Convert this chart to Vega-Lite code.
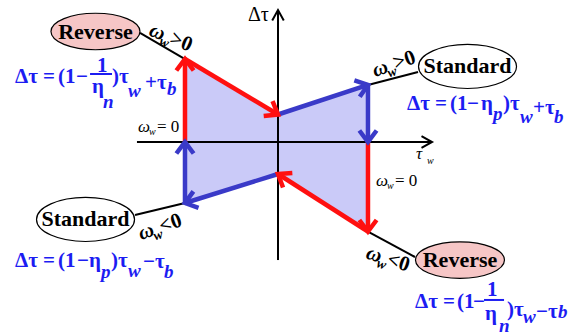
{
  "$schema": "https://vega.github.io/schema/vega-lite/v6.json",
  "width": 570,
  "height": 336,
  "padding": 0,
  "autosize": {"type": "none"},
  "background": "white",
  "config": {"view": {"stroke": null}},
  "encoding": {
    "x": {"field": "x", "type": "quantitative", "scale": {"domain": [-3.0217, 3.1739], "nice": false, "zero": false}, "axis": null},
    "y": {"field": "y", "type": "quantitative", "scale": {"domain": [-2.1087, 1.5435], "nice": false, "zero": false}, "axis": null}
  },
  "datasets": {
    "region": [
      {"x": -1.011, "y": 0.902, "y2": -0.663},
      {"x": 0, "y": 0.299, "y2": -0.348},
      {"x": 0.978, "y": 0.62, "y2": -0.973}
    ],
    "axes": [
      {"name": "tau_w", "x": 1.674, "y": 0, "x2": -1.533, "y2": 0, "heading": 90},
      {"name": "delta_tau", "x": 0, "y": 1.435, "x2": 0, "y2": -1.283, "heading": 0}
    ],
    "edges": [
      {"mode": "Reverse", "x": -1.011, "y": 0.902, "x2": -1.011, "y2": 0, "heading": 0},
      {"mode": "Reverse", "x": 0, "y": 0.299, "x2": -1.011, "y2": 0.902, "heading": 120.8},
      {"mode": "Standard", "x": 0.978, "y": 0.62, "x2": 0, "y2": 0.299, "heading": 71.8},
      {"mode": "Standard", "x": 0.978, "y": 0, "x2": 0.978, "y2": 0.62, "heading": 180},
      {"mode": "Reverse", "x": 0.978, "y": -0.973, "x2": 0.978, "y2": 0, "heading": 180},
      {"mode": "Reverse", "x": 0, "y": -0.348, "x2": 0.978, "y2": -0.973, "heading": 302.6},
      {"mode": "Standard", "x": -1.011, "y": -0.663, "x2": 0, "y2": -0.348, "heading": 252.7},
      {"mode": "Standard", "x": -1.011, "y": 0, "x2": -1.011, "y2": -0.663, "heading": 0}
    ],
    "leads": [
      {"x": -1.011, "y": 0.902, "x2": -1.5, "y2": 1.185},
      {"x": 0.978, "y": 0.62, "x2": 1.522, "y2": 0.761},
      {"x": -1.011, "y": -0.663, "x2": -1.554, "y2": -0.793},
      {"x": 0.978, "y": -0.973, "x2": 1.489, "y2": -1.25}
    ],
    "ellipses": [
      {"mode": "Reverse", "x": -1.984, "y": 1.201},
      {"mode": "Standard", "x": 2.06, "y": 0.821},
      {"mode": "Standard", "x": -2.092, "y": -0.842},
      {"mode": "Reverse", "x": 1.978, "y": -1.283}
    ],
    "tags": [
      {"rel": ">0", "x": -1.413, "y": 1.163, "tilt": 22},
      {"rel": ">0", "x": 1.054, "y": 0.707, "tilt": -19},
      {"rel": "<0", "x": -1.489, "y": -1.065, "tilt": -19},
      {"rel": "<0", "x": 0.946, "y": -1.261, "tilt": 18}
    ],
    "notes": [
      {"role": "head", "t": "Δτ", "x": -0.326, "y": 1.315},
      {"role": "sym", "t": "τ", "x": 1.5, "y": -0.185},
      {"role": "sub", "t": "w", "x": 1.62, "y": -0.239},
      {"role": "sym", "t": "ω", "x": -1.522, "y": 0.109},
      {"role": "sub", "t": "w", "x": -1.402, "y": 0.076},
      {"role": "plain", "t": "= 0", "x": -1.315, "y": 0.109},
      {"role": "sym", "t": "ω", "x": 1.065, "y": -0.478},
      {"role": "sub", "t": "w", "x": 1.185, "y": -0.511},
      {"role": "plain", "t": "= 0", "x": 1.272, "y": -0.478}
    ],
    "formula": [
      {"role": "main", "t": "Δτ", "x": -2.859, "y": 0.641},
      {"role": "main", "t": "=", "x": -2.554, "y": 0.641},
      {"role": "main", "t": "(1", "x": -2.391, "y": 0.641},
      {"role": "main", "t": "−", "x": -2.196, "y": 0.641},
      {"role": "main", "t": "1", "x": -1.967, "y": 0.761},
      {"role": "main", "t": "η", "x": -2.022, "y": 0.533},
      {"role": "sub", "t": "n", "x": -1.902, "y": 0.37},
      {"role": "main", "t": ")τ", "x": -1.804, "y": 0.641},
      {"role": "sub", "t": "w", "x": -1.63, "y": 0.489},
      {"role": "main", "t": "+τ", "x": -1.446, "y": 0.576},
      {"role": "sub", "t": "b", "x": -1.207, "y": 0.511},

      {"role": "main", "t": "Δτ", "x": 1.402, "y": 0.348},
      {"role": "main", "t": "=", "x": 1.707, "y": 0.348},
      {"role": "main", "t": "(1", "x": 1.87, "y": 0.348},
      {"role": "main", "t": "−", "x": 2.054, "y": 0.348},
      {"role": "main", "t": "η", "x": 2.207, "y": 0.348},
      {"role": "sub", "t": "p", "x": 2.337, "y": 0.239},
      {"role": "main", "t": ")τ", "x": 2.446, "y": 0.348},
      {"role": "sub", "t": "w", "x": 2.63, "y": 0.207},
      {"role": "main", "t": "+τ", "x": 2.772, "y": 0.304},
      {"role": "sub", "t": "b", "x": 3.0, "y": 0.207},

      {"role": "main", "t": "Δτ", "x": -2.859, "y": -1.359},
      {"role": "main", "t": "=", "x": -2.554, "y": -1.359},
      {"role": "main", "t": "(1", "x": -2.391, "y": -1.359},
      {"role": "main", "t": "−", "x": -2.185, "y": -1.359},
      {"role": "main", "t": "η", "x": -2.054, "y": -1.359},
      {"role": "sub", "t": "p", "x": -1.924, "y": -1.478},
      {"role": "main", "t": ")τ", "x": -1.815, "y": -1.359},
      {"role": "sub", "t": "w", "x": -1.63, "y": -1.467},
      {"role": "main", "t": "−τ", "x": -1.467, "y": -1.37},
      {"role": "sub", "t": "b", "x": -1.24, "y": -1.478},

      {"role": "main", "t": "Δτ", "x": 1.489, "y": -1.804},
      {"role": "main", "t": "=", "x": 1.793, "y": -1.804},
      {"role": "main", "t": "(1", "x": 1.946, "y": -1.804},
      {"role": "main", "t": "−", "x": 2.12, "y": -1.804},
      {"role": "main", "t": "1", "x": 2.272, "y": -1.674},
      {"role": "main", "t": "η", "x": 2.25, "y": -1.935},
      {"role": "sub", "t": "n", "x": 2.402, "y": -2.065},
      {"role": "main", "t": ")τ", "x": 2.489, "y": -1.891},
      {"role": "sub", "t": "w", "x": 2.663, "y": -1.967},
      {"role": "main", "t": "−τ", "x": 2.804, "y": -1.913},
      {"role": "sub", "t": "b", "x": 3.043, "y": -1.913}
    ],
    "bars": [
      {"x": -2.043, "x2": -1.804, "y": 0.739},
      {"x": 2.239, "x2": 2.457, "y": -1.717}
    ]
  },
  "layer": [
    {
      "data": {"name": "region"},
      "mark": {"type": "area", "fill": "#cacaf8", "opacity": 1},
      "encoding": {"y2": {"field": "y2"}}
    },
    {
      "data": {"name": "axes"},
      "mark": {"type": "rule", "color": "black", "strokeWidth": 2},
      "encoding": {"x2": {"field": "x2"}, "y2": {"field": "y2"}}
    },
    {
      "data": {"name": "axes"},
      "mark": {"type": "point", "shape": "M-0.55,1L0,0L0.55,1", "filled": false, "size": 441, "stroke": "black", "strokeWidth": 2, "opacity": 1},
      "encoding": {"angle": {"field": "heading", "type": "quantitative", "scale": null}}
    },
    {
      "data": {"name": "leads"},
      "mark": {"type": "rule", "color": "black", "strokeWidth": 2},
      "encoding": {"x2": {"field": "x2"}, "y2": {"field": "y2"}}
    },
    {
      "data": {"name": "edges"},
      "mark": {"type": "rule", "strokeWidth": 4.5},
      "encoding": {
        "x2": {"field": "x2"},
        "y2": {"field": "y2"},
        "color": {"field": "mode", "type": "nominal", "scale": {"domain": ["Reverse", "Standard"], "range": ["#ff1010", "#3a3ac8"]}, "legend": null}
      }
    },
    {
      "data": {"name": "edges"},
      "mark": {"type": "point", "shape": "M-0.75,1L0,0L0.75,1", "filled": false, "size": 529, "strokeWidth": 4.5, "strokeJoin": "miter", "opacity": 1},
      "encoding": {
        "angle": {"field": "heading", "type": "quantitative", "scale": null},
        "color": {"field": "mode", "type": "nominal", "scale": {"domain": ["Reverse", "Standard"], "range": ["#ff1010", "#3a3ac8"]}, "legend": null}
      }
    },
    {
      "data": {"name": "ellipses"},
      "transform": [{"filter": "datum.mode === 'Reverse'"}],
      "mark": {"type": "point", "shape": "M-1,0 A1,0.41 0 1 1 1,0 A1,0.41 0 1 1 -1,0 Z", "filled": true, "fill": "#f6c6c6", "stroke": "black", "strokeWidth": 1.2, "size": 7921, "opacity": 1}
    },
    {
      "data": {"name": "ellipses"},
      "transform": [{"filter": "datum.mode === 'Standard'"}],
      "mark": {"type": "point", "shape": "M-1,0 A1,0.45 0 1 1 1,0 A1,0.45 0 1 1 -1,0 Z", "filled": true, "fill": "white", "stroke": "black", "strokeWidth": 1.2, "size": 9604, "opacity": 1}
    },
    {
      "data": {"name": "ellipses"},
      "mark": {"type": "text", "font": "Liberation Serif", "fontSize": 22, "fontWeight": "bold", "color": "black", "align": "center", "baseline": "middle"},
      "encoding": {"text": {"field": "mode"}}
    },
    {
      "data": {"name": "tags"},
      "mark": {"type": "text", "text": "ω", "font": "Liberation Serif", "fontSize": 21, "fontWeight": "bold", "fontStyle": "italic", "color": "black", "align": "left", "baseline": "alphabetic"},
      "encoding": {"angle": {"field": "tilt", "type": "quantitative", "scale": null}}
    },
    {
      "data": {"name": "tags"},
      "mark": {"type": "text", "text": "w", "dx": 13, "dy": 5, "font": "Liberation Serif", "fontSize": 14, "fontWeight": "bold", "fontStyle": "italic", "color": "black", "align": "left", "baseline": "alphabetic"},
      "encoding": {"angle": {"field": "tilt", "type": "quantitative", "scale": null}}
    },
    {
      "data": {"name": "tags"},
      "mark": {"type": "text", "dx": 22, "font": "Liberation Serif", "fontSize": 21, "fontWeight": "bold", "color": "black", "align": "left", "baseline": "alphabetic"},
      "encoding": {"text": {"field": "rel"}, "angle": {"field": "tilt", "type": "quantitative", "scale": null}}
    },
    {
      "data": {"name": "notes"},
      "transform": [{"filter": "datum.role === 'head'"}],
      "mark": {"type": "text", "font": "Liberation Serif", "fontSize": 20, "color": "black", "align": "left", "baseline": "alphabetic"},
      "encoding": {"text": {"field": "t"}}
    },
    {
      "data": {"name": "notes"},
      "transform": [{"filter": "datum.role === 'plain'"}],
      "mark": {"type": "text", "font": "Liberation Serif", "fontSize": 17, "color": "black", "align": "left", "baseline": "alphabetic"},
      "encoding": {"text": {"field": "t"}}
    },
    {
      "data": {"name": "notes"},
      "transform": [{"filter": "datum.role === 'sym'"}],
      "mark": {"type": "text", "font": "Liberation Serif", "fontSize": 17, "fontStyle": "italic", "color": "black", "align": "left", "baseline": "alphabetic"},
      "encoding": {"text": {"field": "t"}}
    },
    {
      "data": {"name": "notes"},
      "transform": [{"filter": "datum.role === 'sub'"}],
      "mark": {"type": "text", "font": "Liberation Serif", "fontSize": 10, "fontStyle": "italic", "color": "black", "align": "left", "baseline": "alphabetic"},
      "encoding": {"text": {"field": "t"}}
    },
    {
      "data": {"name": "formula"},
      "transform": [{"filter": "datum.role === 'main'"}],
      "mark": {"type": "text", "font": "Liberation Serif", "fontSize": 21, "fontWeight": "bold", "color": "#1c1cf2", "align": "left", "baseline": "alphabetic"},
      "encoding": {"text": {"field": "t"}}
    },
    {
      "data": {"name": "formula"},
      "transform": [{"filter": "datum.role === 'sub'"}],
      "mark": {"type": "text", "font": "Liberation Serif", "fontSize": 19, "fontWeight": "bold", "fontStyle": "italic", "color": "#1c1cf2", "align": "left", "baseline": "alphabetic"},
      "encoding": {"text": {"field": "t"}}
    },
    {
      "data": {"name": "bars"},
      "mark": {"type": "rule", "color": "#1c1cf2", "strokeWidth": 2},
      "encoding": {"x2": {"field": "x2"}}
    }
  ]
}
